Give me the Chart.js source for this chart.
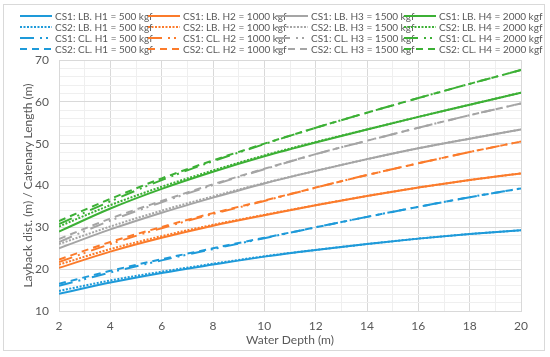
<!DOCTYPE html>
<html>
<head>
<meta charset="utf-8">
<script src="https://cdn.jsdelivr.net/npm/chart.js@4.4.1/dist/chart.umd.min.js"></script>
<style>
    body { margin: 0; background: #fff; }
    #wrap { position: relative; width: 550px; height: 357px; font-family: Lato, sans-serif; }
    #frame { position: absolute; left: 3px; top: 4px; width: 542px; height: 347px; border: 1px solid #d9d9d9; box-sizing: border-box; }
    #legend { position: absolute; left: 20px; top: 11px; display: grid; grid-template-columns: repeat(4, 128px); grid-auto-rows: 10.9px; }
    .item { display: flex; align-items: center; font-size: 10px; color: #595959; white-space: nowrap; }
    .item svg { margin-right: 3px; flex: none; }
    canvas { position: absolute; left: 0; top: 0; }
</style>
</head>
<body>
<div id="wrap">
    <div id="frame"></div>
    <canvas id="chart" width="550" height="357"></canvas>
    <div id="legend"></div>
</div>
<script>
const depth = [2, 4, 6, 8, 10, 12, 14, 16, 18, 20];

// H1 = 500 kgf
const cs1LbH1 = [14.1, 16.8, 19.1, 21.1, 23.0, 24.6, 26.0, 27.3, 28.4, 29.3];
const cs2LbH1 = [14.8, 17.3, 19.4, 21.3, 23.1, 24.6, 26.0, 27.3, 28.4, 29.3];
const cs1ClH1 = [16.0, 19.2, 22.1, 24.8, 27.4, 30.0, 32.5, 34.9, 37.2, 39.3];
const cs2ClH1 = [16.5, 19.6, 22.4, 25.0, 27.5, 30.0, 32.5, 34.9, 37.2, 39.3];
// H2 = 1000 kgf
const cs1LbH2 = [20.3, 24.2, 27.5, 30.4, 32.9, 35.3, 37.5, 39.5, 41.3, 42.9];
const cs2LbH2 = [21.1, 24.8, 27.9, 30.6, 33.0, 35.3, 37.5, 39.5, 41.3, 42.9];
const cs1ClH2 = [21.7, 26.0, 29.8, 33.2, 36.3, 39.5, 42.5, 45.3, 48.0, 50.5];
const cs2ClH2 = [22.3, 26.5, 30.1, 33.4, 36.4, 39.5, 42.5, 45.3, 48.0, 50.5];
// H3 = 1500 kgf
const cs1LbH3 = [25.0, 29.5, 33.5, 37.1, 40.5, 43.5, 46.3, 48.9, 51.2, 53.4];
const cs2LbH3 = [26.0, 30.2, 34.0, 37.4, 40.6, 43.5, 46.3, 48.9, 51.2, 53.4];
const cs1ClH3 = [26.5, 31.6, 36.0, 40.1, 43.9, 47.5, 50.7, 53.8, 56.8, 59.6];
const cs2ClH3 = [27.2, 32.1, 36.3, 40.3, 44.0, 47.5, 50.7, 53.8, 56.8, 59.6];
// H4 = 2000 kgf
const cs1LbH4 = [29.0, 34.5, 39.2, 43.3, 47.0, 50.3, 53.4, 56.4, 59.3, 62.2];
const cs2LbH4 = [30.2, 35.3, 39.7, 43.6, 47.2, 50.4, 53.4, 56.4, 59.3, 62.2];
const cs1ClH4 = [30.8, 36.2, 41.3, 45.8, 49.9, 53.8, 57.4, 60.9, 64.3, 67.6];
const cs2ClH4 = [31.5, 36.8, 41.7, 46.0, 50.0, 53.8, 57.4, 60.9, 64.3, 67.6];

const xTicks = [2, 4, 6, 8, 10, 12, 14, 16, 18, 20];
const yTicks = [10, 20, 30, 40, 50, 60, 70];

const blue = '#1e9ad9', orange = '#fb7b2b', gray = '#a5a5a5', green = '#3cb035';
const solid = [], dotted = [2, 1.5], dashDot = [14, 6, 2, 4, 2, 6], dashed = [7, 5];

// legend order is row by row
const series = [
    ['CS1: LB. H1 = 500 kgf', cs1LbH1, blue, solid],
    ['CS1: LB. H2 = 1000 kgf', cs1LbH2, orange, solid],
    ['CS1: LB. H3 = 1500 kgf', cs1LbH3, gray, solid],
    ['CS1: LB. H4 = 2000 kgf', cs1LbH4, green, solid],
    ['CS2: LB. H1 = 500 kgf', cs2LbH1, blue, dotted],
    ['CS2: LB. H2 = 1000 kgf', cs2LbH2, orange, dotted],
    ['CS2: LB. H3 = 1500 kgf', cs2LbH3, gray, dotted],
    ['CS2: LB. H4 = 2000 kgf', cs2LbH4, green, dotted],
    ['CS1: CL. H1 = 500 kgf', cs1ClH1, blue, dashDot],
    ['CS1: CL. H2 = 1000 kgf', cs1ClH2, orange, dashDot],
    ['CS1: CL. H3 = 1500 kgf', cs1ClH3, gray, dashDot],
    ['CS1: CL. H4 = 2000 kgf', cs1ClH4, green, dashDot],
    ['CS2: CL. H1 = 500 kgf', cs2ClH1, blue, dashed],
    ['CS2: CL. H2 = 1000 kgf', cs2ClH2, orange, dashed],
    ['CS2: CL. H3 = 1500 kgf', cs2ClH3, gray, dashed],
    ['CS2: CL. H4 = 2000 kgf', cs2ClH4, green, dashed],
];

const datasets = series.map(([label, vals, color, dash]) => ({
    label: label,
    data: vals.map((v, i) => ({ x: depth[i], y: v })),
    borderColor: color,
    borderWidth: 2,
    borderDash: dash,
    pointRadius: 0,
    fill: false,
    cubicInterpolationMode: 'monotone',
}));

// html legend
const legend = document.getElementById('legend');
series.forEach(([label, vals, color, dash]) => {
    const item = document.createElement('div');
    item.className = 'item';
    item.innerHTML = `<svg width="32" height="4"><line x1="0" y1="2" x2="32" y2="2" stroke="${color}" stroke-width="2" stroke-dasharray="${dash.length ? dash.join(' ') : 'none'}"/></svg><span>${label}</span>`;
    legend.appendChild(item);
});

const textColor = '#595959';

new Chart(document.getElementById('chart'), {
    type: 'line',
    data: { datasets },
    options: {
        responsive: false,
        animation: false,
        devicePixelRatio: 1,
        layout: { padding: { left: 0, top: 60, right: 29, bottom: 0 } },
        plugins: { legend: { display: false }, tooltip: { enabled: false } },
        scales: {
            x: {
                type: 'linear',
                min: 2,
                max: 20,
                afterFit: (s) => { s.height = 46; },
                ticks: {
                    stepSize: 1,
                    autoSkip: false,
                    maxRotation: 0,
                    padding: 8,
                    color: textColor,
                    font: { family: 'Lato', size: 12 },
                    callback: (v) => xTicks.includes(v) ? v : '',
                },
                grid: {
                    drawTicks: false,
                    color: (c) => xTicks.includes(c.tick.value) ? '#d9d9d9' : '#efefef',
                },
                border: { color: '#d9d9d9' },
                title: {
                    display: true,
                    text: 'Water Depth (m)',
                    color: textColor,
                    font: { family: 'Lato', size: 12 },
                    padding: { top: 4, bottom: 10 },
                },
            },
            y: {
                min: 10,
                max: 70,
                afterFit: (s) => { s.width = 59; },
                ticks: {
                    stepSize: 2,
                    autoSkip: false,
                    padding: 10,
                    color: textColor,
                    font: { family: 'Lato', size: 12 },
                    callback: (v) => yTicks.includes(v) ? v : '',
                },
                grid: {
                    drawTicks: false,
                    color: (c) => yTicks.includes(c.tick.value) ? '#d9d9d9' : '#efefef',
                },
                border: { color: '#d9d9d9' },
                title: {
                    display: true,
                    text: 'Layback dist. (m) / Catenary Length (m)',
                    color: textColor,
                    font: { family: 'Lato', size: 12 },
                    padding: { top: 21, bottom: 0 },
                },
            },
        },
    },
});
</script>
</body>
</html>
